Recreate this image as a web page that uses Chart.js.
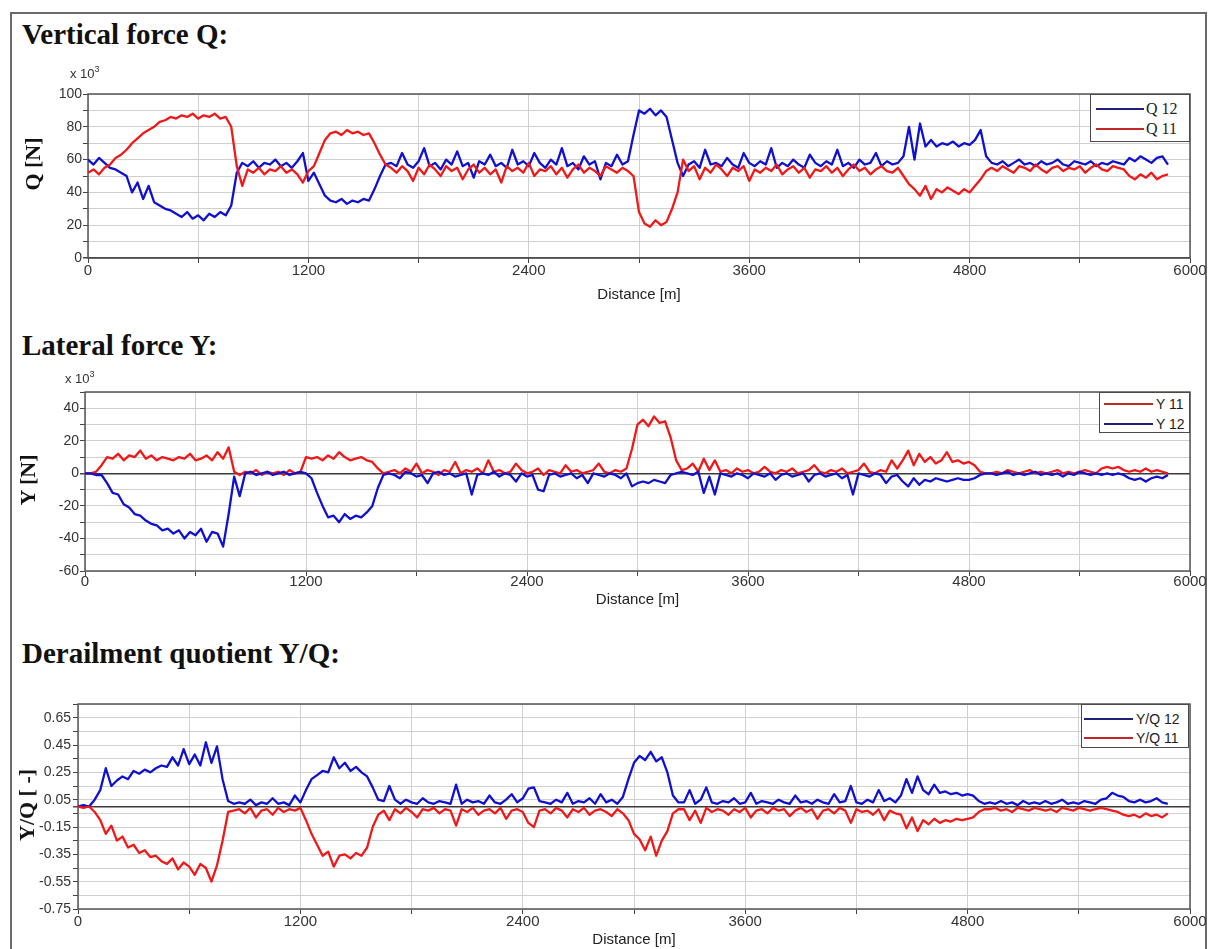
<!DOCTYPE html>
<html>
<head>
<meta charset="utf-8">
<title>Wheel-rail forces</title>
<script src="https://cdn.jsdelivr.net/npm/chart.js@4.4.1/dist/chart.umd.min.js"></script>
<style>
  html, body { margin: 0; padding: 0; background: #fff; }
  body { position: relative; width: 1208px; height: 949px; overflow: hidden; font-family: "Liberation Sans", Arial, sans-serif; }
  .frame { position: absolute; left: 10px; top: 12px; width: 1193px; height: 960px; border: 2px solid #6a6a6a; }
  .heading { position: absolute; left: 22px; font: bold 29px/29px "Liberation Serif", "Times New Roman", serif; color: #111; white-space: nowrap; }
  .axis-name { position: absolute; font: bold 22px/24px "Liberation Serif", "Times New Roman", serif; color: #111; white-space: nowrap; transform: translate(-50%, -50%) rotate(-90deg); }
  .mult { position: absolute; font-size: 13px; line-height: 13px; color: #333; white-space: nowrap; }
  .mult span { position: relative; top: -6px; font-size: 9px; }
  canvas { position: absolute; left: 0; }
  .legend { position: absolute; box-sizing: border-box; background: #fff; border: 1px solid #4a4a4a; }
  .legend i { position: absolute; height: 2px; }
  .legend b { position: absolute; font-weight: normal; line-height: 16px; color: #222; white-space: nowrap; }
</style>
</head>
<body>
<div class="frame"></div>

<div class="heading" style="top:20px">Vertical force Q:</div>
<canvas id="chartQ" width="1208" height="230" style="top:80px"></canvas>
<div class="mult" style="left:70px;top:67px">x 10<span>3</span></div>
<div class="axis-name" style="left:33px;top:164px">Q [N]</div>
<div class="legend" style="left:1090px;top:94px;width:100px;height:48px;font:16px 'Liberation Serif',serif">
  <i style="left:5px;top:13px;width:48px;background:#20207a"></i><b style="left:55px;top:6px">Q 12</b>
  <i style="left:5px;top:33px;width:48px;background:#c02828"></i><b style="left:55px;top:26px">Q 11</b>
</div>

<div class="heading" style="top:331px">Lateral force Y:</div>
<canvas id="chartY" width="1208" height="240" style="top:380px"></canvas>
<div class="mult" style="left:65px;top:372px">x 10<span>3</span></div>
<div class="axis-name" style="left:28px;top:480px">Y [N]</div>
<div class="legend" style="left:1099px;top:392px;width:91px;height:41px;font-size:14px">
  <i style="left:4px;top:10px;width:49px;background:#c02828"></i><b style="left:56px;top:3px">Y 11</b>
  <i style="left:4px;top:30px;width:49px;background:#20207a"></i><b style="left:56px;top:23px">Y 12</b>
</div>

<div class="heading" style="top:639px">Derailment quotient Y/Q:</div>
<canvas id="chartYQ" width="1208" height="259" style="top:690px"></canvas>
<div class="axis-name" style="left:27px;top:805px">Y/Q [ -]</div>
<div class="legend" style="left:1081px;top:704px;width:108px;height:44px;font-size:14px">
  <i style="left:2px;top:13px;width:49px;background:#20207a"></i><b style="left:54px;top:6px">Y/Q 12</b>
  <i style="left:2px;top:32px;width:49px;background:#c02828"></i><b style="left:54px;top:25px">Y/Q 11</b>
</div>

<script>
// sample positions along the track [m]
const distance = [
    0, 30, 60, 90, 120, 150, 180, 210, 240, 270, 300, 330, 360, 390, 420, 450, 480, 510, 540, 570,
    600, 630, 660, 690, 720, 750, 780, 810, 840, 870, 900, 930, 960, 990, 1020, 1050, 1080, 1110, 1140, 1170,
    1200, 1230, 1260, 1290, 1320, 1350, 1380, 1410, 1440, 1470, 1500, 1530, 1560, 1590, 1620, 1650, 1680, 1710, 1740, 1770,
    1800, 1830, 1860, 1890, 1920, 1950, 1980, 2010, 2040, 2070, 2100, 2130, 2160, 2190, 2220, 2250, 2280, 2310, 2340, 2370,
    2400, 2430, 2460, 2490, 2520, 2550, 2580, 2610, 2640, 2670, 2700, 2730, 2760, 2790, 2820, 2850, 2880, 2910, 2940, 2970,
    3000, 3030, 3060, 3090, 3120, 3150, 3180, 3210, 3240, 3270, 3300, 3330, 3360, 3390, 3420, 3450, 3480, 3510, 3540, 3570,
    3600, 3630, 3660, 3690, 3720, 3750, 3780, 3810, 3840, 3870, 3900, 3930, 3960, 3990, 4020, 4050, 4080, 4110, 4140, 4170,
    4200, 4230, 4260, 4290, 4320, 4350, 4380, 4410, 4440, 4470, 4500, 4530, 4560, 4590, 4620, 4650, 4680, 4710, 4740, 4770,
    4800, 4830, 4860, 4890, 4920, 4950, 4980, 5010, 5040, 5070, 5100, 5130, 5160, 5190, 5220, 5250, 5280, 5310, 5340, 5370,
    5400, 5430, 5460, 5490, 5520, 5550, 5580, 5610, 5640, 5670, 5700, 5730, 5760, 5790, 5820, 5850, 5880
];

// vertical force Q [kN]
const q12 = [
    60, 57, 61, 58, 55, 54, 52, 50, 40, 46, 36, 44, 34, 32, 30, 29,
    27, 25, 28, 24, 26, 23, 27, 25, 28, 26, 32, 52, 58,
    56, 59, 55, 58, 57, 60, 56, 58, 55, 59, 64, 47,
    52, 45, 38, 35, 34, 36, 33, 35, 34, 36, 35, 42, 50, 57,
    58, 56, 64, 57, 55, 59, 67, 56, 58, 54, 60, 57, 65, 56, 58, 49, 59, 57, 63, 56,
    58, 55, 66, 57, 59, 56, 64, 58, 55, 60, 57, 67, 56, 58, 54, 62, 57, 59, 48, 58,
    56, 63, 57, 59,
    75, 90, 88, 91, 87, 90, 86, 72, 58, 50,
    57, 59, 55, 66, 57, 58, 56, 61, 57, 55, 64, 58, 56, 59, 57, 67, 55, 58, 56, 60,
    57, 55, 63, 58, 56, 59, 57, 66, 56, 58, 55, 60, 57, 58, 64, 56, 59, 57, 58,
    62, 80, 60, 82, 68, 72, 68, 70, 69, 71, 68, 70, 69, 72, 78, 62,
    58, 57, 59, 56, 58, 60, 57, 58, 56, 59, 57, 58, 60, 57, 56, 59, 58, 57, 59, 56,
    58, 57, 59, 58, 57,
    61, 59, 62, 60, 58, 61, 62, 57
];
const q11 = [
    52, 54, 51, 55, 57, 61, 63, 66, 70, 73, 76, 78, 80, 83, 84, 86,
    85, 87, 86, 88, 85, 87, 86, 88, 85, 86, 80, 56, 44,
    54, 52, 55, 51, 54, 53, 56, 52, 54, 51, 46, 53,
    56, 64, 72, 76, 77, 75, 78, 76, 77, 75, 76, 70, 63, 57,
    55, 52, 56, 53, 47, 55, 51, 57, 54, 50, 56, 53, 55, 48, 54, 57, 52, 55, 51, 54,
    46, 56, 53, 55, 52, 58, 50, 54, 53, 56, 51, 55, 49, 54, 57, 52, 55, 53, 50, 56,
    54, 52, 55, 53,
    50, 28, 21, 19, 23, 20, 22, 30, 40, 60,
    53, 56, 48, 55, 52, 57, 54, 50, 55, 53, 56, 47, 54, 52, 55, 53, 57, 51, 54, 56,
    52, 55, 49, 54, 53, 56, 52, 55, 50, 54, 57, 53, 55, 51, 54, 56, 53, 52, 55,
    50, 45, 42, 38, 44, 36, 42, 40, 43, 41, 39, 42, 40, 44, 48, 53,
    55, 53, 56, 54, 52, 56, 55, 53, 57, 54, 52, 55, 56, 53, 55, 54, 56, 52, 55, 57,
    54, 53, 56, 55, 54,
    50, 48, 51, 49, 52, 48, 50, 51
];

// lateral force Y [kN]
const y11 = [
    0, 0, 1, 5, 10, 9, 12, 8, 11, 10, 14, 9, 11, 8, 10, 9,
    8, 10, 9, 12, 8, 9, 11, 8, 13, 9, 16, 1, -1,
    1, 0, 2, -1, 1, 0, 1, -1, 2, 0, 1, 10,
    9, 10, 8, 11, 9, 13, 10, 8, 9, 10, 8, 7, 3, 0,
    1, 2, 0, 3, 1, 6, 0, 2, 1, -1, 2, 1, 7, 0, 2, 1, 3, 0, 8, 1,
    2, 0, 1, 6, 2, 0, 1, 3, -1, 2, 1, 0, 5, 1, 2, 0, 1, 2, 6, 1,
    0, 2, 1, 3,
    15, 30, 33, 29, 35, 31, 32, 22, 8, 2,
    3, 6, 1, 9, 2, 8, 1, 2, 0, 3, 1, 2, 0, 1, 4, 1, 0, 2, 1, 3,
    0, 1, 2, 5, 1, 0, 2, 1, 3, 0, 1, 2, 6, 1, 0, 2, 1, 8, 3,
    8, 14, 5, 12, 7, 10, 6, 8, 13, 7, 8, 6, 7, 5, 1, 0,
    0, 1, 0, 2, 1, 0, 1, 2, 0, 1, 0, 1, 2, 0, 1, 0, 1, 2, 1, 0,
    3, 4, 3, 4, 2,
    1, 2, 1, 3, 1, 2, 1, 0
];
const y12 = [
    0, 0, -1, -1, -6, -12, -13, -19, -21, -25, -26, -29, -31, -32, -35, -34,
    -37, -35, -40, -36, -38, -34, -42, -36, -37, -45, -25, -2, -14,
    0, 1, -1, 0, 1, -1, 0, 1, -1, 0, 1, 0,
    -3, -12, -20, -27, -26, -30, -25, -28, -26, -27, -24, -20, -9, -1,
    0, -1, -3, 1, 0, -2, -1, -6, 0, 1, -1, 0, -2, -1, 0, -13, -1, 0, -1, 1,
    -2, 0, -1, -5, 0, -2, -1, -10, -11, -1, 0, -2, -1, 0, -3, -1, -6, 0, -1, -2,
    0, -1, -3, 0,
    -8, -6, -5, -6, -4, -5, -6, -1, 0, 1,
    0, -1, 1, -12, -2, -13, 0, -1, -2, 0, -1, -3, 0, -1, -2, 0, -4, -1, 0, -2,
    -1, 0, -5, -1, 0, -2, -1, 0, -3, -1, -13, 0, -1, -2, 0, -1, -6, -2, -1,
    -5, -8, -3, -7, -4, -5, -3, -4, -5, -4, -3, -4, -4, -3, -1, 0,
    0, -1, 0, 1, -1, 0, -1, 0, 1, -1, 0, -1, 0, -2, 0, -1, 1, 0, -1, 0,
    -1, 0, -1, 0, -1,
    -3, -4, -3, -5, -3, -2, -3, -1
];

// derailment quotient Y/Q [-]
const yq12 = [
    0, 0.01, 0, 0.05, 0.12, 0.28, 0.15, 0.19, 0.22, 0.2, 0.26, 0.24, 0.27, 0.25, 0.28, 0.3,
    0.29, 0.36, 0.3, 0.42, 0.31, 0.38, 0.3, 0.47, 0.32, 0.44, 0.2, 0.04, 0.02,
    0.03, 0.02, 0.05, 0.01, 0.03, 0.02, 0.06, 0.02, 0.03, 0.01, 0.08, 0.03,
    0.12, 0.2, 0.23, 0.26, 0.25, 0.36, 0.28, 0.32, 0.26, 0.29, 0.25, 0.22, 0.14, 0.05,
    0.04, 0.15, 0.05, 0.02, 0.05, 0.03, 0.02, 0.06, 0.03, 0.02, 0.04, 0.03, 0.02, 0.16, 0.02, 0.05, 0.03, 0.04, 0.02, 0.08,
    0.03, 0.02, 0.05, 0.09, 0.03, 0.06, 0.13, 0.14, 0.04, 0.03, 0.02, 0.05, 0.03, 0.1, 0.02, 0.04, 0.03, 0.06, 0.02, 0.09,
    0.03, 0.05, 0.02, 0.07,
    0.2, 0.32, 0.37, 0.34, 0.4, 0.33, 0.36, 0.25, 0.08, 0.03,
    0.03, 0.12, 0.02, 0.05, 0.14, 0.03, 0.02, 0.04, 0.03, 0.06, 0.02, 0.03, 0.1, 0.02, 0.04, 0.03, 0.02, 0.05, 0.03, 0.02,
    0.08, 0.03, 0.04, 0.02, 0.05, 0.03, 0.02, 0.09, 0.03, 0.04, 0.15, 0.03, 0.02, 0.05, 0.03, 0.12, 0.04, 0.06, 0.03,
    0.08, 0.2, 0.1, 0.22, 0.12, 0.09, 0.16, 0.1, 0.11, 0.09, 0.1, 0.08, 0.09, 0.08, 0.04, 0.02,
    0.03, 0.02, 0.04, 0.02, 0.03, 0.01, 0.04, 0.02, 0.03, 0.02, 0.04, 0.02, 0.03, 0.05, 0.02, 0.03, 0.02, 0.04, 0.03, 0.02,
    0.05, 0.06, 0.1, 0.08, 0.07,
    0.04, 0.03, 0.05, 0.03, 0.04, 0.06, 0.03, 0.02
];
const yq11 = [
    0, -0.01, 0, -0.04, -0.1, -0.2, -0.14, -0.25, -0.22, -0.3, -0.28, -0.34, -0.32, -0.37, -0.36, -0.4,
    -0.42, -0.38, -0.46, -0.41, -0.44, -0.5, -0.42, -0.45, -0.55, -0.43, -0.25, -0.04, -0.03,
    -0.02, -0.05, -0.01, -0.08, -0.03, -0.02, -0.06, -0.01, -0.04, -0.02, -0.03, -0.01,
    -0.1, -0.2, -0.28, -0.36, -0.33, -0.44, -0.36, -0.35, -0.38, -0.34, -0.36, -0.3, -0.15, -0.06,
    -0.03, -0.1, -0.02, -0.05, -0.01, -0.04, -0.08, -0.02, -0.03, -0.01, -0.05, -0.02, -0.03, -0.14, -0.02, -0.04, -0.01, -0.06, -0.03, -0.02,
    -0.05, -0.01, -0.09, -0.03, -0.02, -0.04, -0.12, -0.15, -0.03, -0.02, -0.05, -0.01, -0.03, -0.08, -0.02, -0.04, -0.01, -0.06, -0.03, -0.02,
    -0.04, -0.07, -0.02, -0.05,
    -0.1, -0.2, -0.24, -0.32, -0.22, -0.36, -0.25, -0.18, -0.05, -0.02,
    -0.02, -0.1, -0.03, -0.12, -0.01, -0.04, -0.02, -0.03, -0.06, -0.02, -0.04, -0.01, -0.08, -0.03, -0.02, -0.05, -0.01, -0.03, -0.02, -0.07,
    -0.03, -0.01, -0.04, -0.02, -0.09, -0.03, -0.02, -0.05, -0.01, -0.03, -0.12, -0.02, -0.04, -0.03, -0.06, -0.02, -0.1, -0.03, -0.05,
    -0.06, -0.16, -0.08, -0.18, -0.1, -0.13, -0.09, -0.12, -0.1, -0.11, -0.09, -0.1, -0.09, -0.08, -0.04, -0.02,
    -0.02, -0.01, -0.03, -0.02, -0.04, -0.01, -0.02, -0.03, -0.01, -0.02, -0.03, -0.02, -0.04, -0.01, -0.02, -0.03, -0.01, -0.02, -0.03, -0.02,
    -0.01, -0.02, -0.03, -0.04, -0.06,
    -0.07, -0.06, -0.08, -0.05, -0.07, -0.06, -0.08, -0.05
];

// axis ticks
const distanceTicks = [0, 600, 1200, 1800, 2400, 3000, 3600, 4200, 4800, 5400, 6000];
const distanceLabels = [0, 1200, 2400, 3600, 4800, 6000];
const qTicks = [0, 10, 20, 30, 40, 50, 60, 70, 80, 90, 100];
const yTicks = [-60, -50, -40, -30, -20, -10, 0, 10, 20, 30, 40, 50];
const yqTicks = [-0.75, -0.65, -0.55, -0.45, -0.35, -0.25, -0.15, -0.05, 0, 0.05, 0.15, 0.25, 0.35, 0.45, 0.55, 0.65, 0.75];
const yqLabels = [-0.75, -0.55, -0.35, -0.15, 0.05, 0.25, 0.45, 0.65];

const BLUE = "#1010d0";
const RED = "#f01818";
const GRID = "#d0d0d0";

Chart.defaults.font.family = '"Liberation Sans", Arial, sans-serif';
Chart.defaults.color = "#333";

// dark box round the plot area
const plotFrame = {
    id: "plotFrame",
    beforeDatasetsDraw(chart) {
        const { ctx, chartArea: a } = chart;
        ctx.save();
        ctx.strokeStyle = "#555";
        ctx.lineWidth = 1.5;
        ctx.strokeRect(a.left, a.top, a.right - a.left, a.bottom - a.top);
        ctx.restore();
    }
};

function makeChart(id, cfg) {
    return new Chart(document.getElementById(id), {
        type: "line",
        data: {
            datasets: cfg.series.map(s => ({
                label: s.label,
                data: s.values.map((v, i) => ({ x: distance[i], y: v })),
                borderColor: s.color,
                borderWidth: 2.3,
                borderJoinStyle: "round",
                pointRadius: 0,
                tension: 0
            }))
        },
        options: {
            responsive: false,
            animation: false,
            events: [],
            layout: { padding: { top: cfg.padTop, right: 18, left: 0, bottom: 0 } },
            plugins: { legend: { display: false }, tooltip: { enabled: false } },
            scales: {
                x: {
                    type: "linear", min: 0, max: 6000,
                    afterBuildTicks: s => { s.ticks = distanceTicks.map(v => ({ value: v })); },
                    afterFit: s => { s.height = cfg.xHeight; },
                    border: { display: false },
                    grid: { color: GRID, tickLength: 5, tickColor: "#444" },
                    ticks: {
                        autoSkip: false, maxRotation: 0, padding: cfg.xTickPad,
                        font: { size: 15 },
                        callback: v => distanceLabels.includes(v) ? String(v) : ""
                    },
                    title: {
                        display: true, text: "Distance [m]", color: "#222",
                        font: { size: 15 }, padding: { top: 0, bottom: cfg.xTitlePad }
                    }
                },
                y: {
                    min: cfg.yTicks[0], max: cfg.yTicks[cfg.yTicks.length - 1],
                    afterBuildTicks: s => { s.ticks = cfg.yTicks.map(v => ({ value: v })); },
                    afterFit: s => { s.width = cfg.yWidth; },
                    border: { display: false },
                    grid: {
                        color: c => c.tick && c.tick.value === 0 ? "#3a3a3a" : GRID,
                        lineWidth: c => c.tick && c.tick.value === 0 ? 1.5 : 1,
                        tickLength: 5, tickColor: "#444"
                    },
                    ticks: { autoSkip: false, padding: cfg.yTickPad, font: { size: 14 }, callback: cfg.yLabel }
                }
            }
        },
        plugins: [plotFrame]
    });
}

makeChart("chartQ", {
    series: [
        { label: "Q 11", values: q11, color: RED },
        { label: "Q 12", values: q12, color: BLUE }
    ],
    yTicks: qTicks,
    yLabel: v => v % 20 === 0 ? String(v) : "",
    yWidth: 88, yTickPad: 1,
    padTop: 14, xHeight: 52, xTickPad: -1, xTitlePad: 6
});

makeChart("chartY", {
    series: [
        { label: "Y 12", values: y12, color: BLUE },
        { label: "Y 11", values: y11, color: RED }
    ],
    yTicks: yTicks,
    yLabel: v => v % 20 === 0 ? String(v) : "",
    yWidth: 85, yTickPad: 1,
    padTop: 12, xHeight: 49, xTickPad: -3, xTitlePad: 11
});

makeChart("chartYQ", {
    series: [
        { label: "Y/Q 11", values: yq11, color: RED },
        { label: "Y/Q 12", values: yq12, color: BLUE }
    ],
    yTicks: yqTicks,
    yLabel: v => yqLabels.includes(v) ? v.toFixed(2) : "",
    yWidth: 78, yTickPad: 2,
    padTop: 14, xHeight: 40, xTickPad: -1, xTitlePad: 0
});
</script>
</body>
</html>
